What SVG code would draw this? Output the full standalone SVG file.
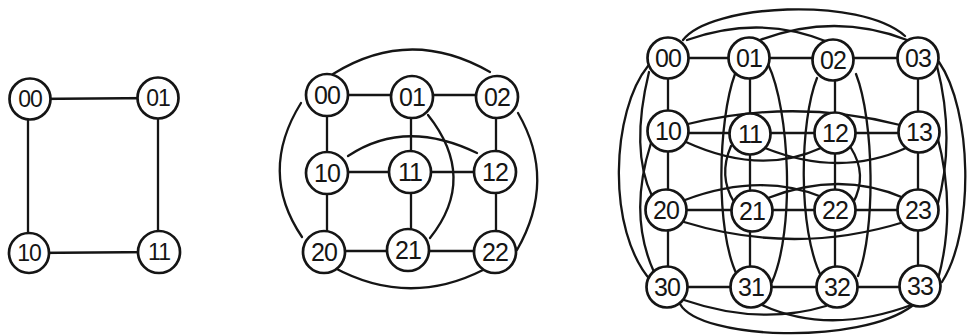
<svg xmlns="http://www.w3.org/2000/svg" width="970" height="336" viewBox="0 0 970 336">
  <style>
    .edge { fill: none; stroke: #151515; stroke-width: 2.3; stroke-linecap: round; }
    .node circle { fill: #fff; stroke: #151515; stroke-width: 2.7; }
    .node text { font-family: "Liberation Sans", "DejaVu Sans", sans-serif; font-size: 25px; fill: #151515; text-anchor: middle; letter-spacing: -1px; }
    .small text { font-size: 23px; }
  </style>
  <rect width="970" height="336" fill="#fff"/>

  <!-- connectors -->
  <g id="edges">
    <!-- 2x2 square -->
    <path class="edge" d="M28,99 L158,98 M28,99 L28,253 M158,98 L158,252 M28,253 L158,252"/>

    <!-- 3x3 rook graph: grid lines -->
    <path class="edge" d="M327,95 L496,95 M327,172 L496,172 M327,251 L496,251 M327,95 L327,251 M411,95 L411,251 M496,95 L496,251"/>
    <!-- 3x3 rook graph: long connections -->
    <path class="edge" d="M333,74 Q410,26 490,72"/>
    <path class="edge" d="M301,103 Q258,172 302,237"/>
    <path class="edge" d="M518,113 Q557,180 517,250"/>
    <path class="edge" d="M333,267 Q408,308 483,270"/>
    <path class="edge" d="M348,156 Q405,118 477,153"/>
    <path class="edge" d="M428,115 Q478,178 430,238"/>

    <!-- 4x4 rook graph: grid lines -->
    <path class="edge" d="M668,58 L918,58 M668,133 L918,133 M668,210 L918,210 M668,287 L918,287 M668,58 L668,287 M750,58 L750,287 M835,58 L835,287 M918,58 L918,287"/>
    <!-- top row -->
    <path class="edge" d="M683,40 C710,4 860,-4 905,36"/>
    <path class="edge" d="M687,40 Q760,14 828,42"/>
    <path class="edge" d="M760,40 Q835,12 907,40"/>
    <!-- left column -->
    <path class="edge" d="M648,66 C612,110 605,230 652,282"/>
    <path class="edge" d="M649,72 Q630,150 652,196"/>
    <path class="edge" d="M651,143 Q628,215 654,272"/>
    <!-- right column -->
    <path class="edge" d="M939,62 C972,110 975,230 942,282"/>
    <path class="edge" d="M937,66 Q956,140 937,207"/>
    <path class="edge" d="M937,135 Q957,210 938,279"/>
    <!-- bottom row -->
    <path class="edge" d="M680,304 C700,340 860,345 912,306"/>
    <path class="edge" d="M684,300 Q760,326 826,306"/>
    <path class="edge" d="M762,305 Q830,336 914,304"/>
    <!-- second row -->
    <path class="edge" d="M688,124 Q795,98 900,125"/>
    <path class="edge" d="M686,142 Q760,176 821,148"/>
    <path class="edge" d="M765,148 Q840,178 906,148"/>
    <!-- third row -->
    <path class="edge" d="M685,200 Q760,172 822,197"/>
    <path class="edge" d="M768,198 Q840,170 904,198"/>
    <path class="edge" d="M684,222 Q795,256 904,222"/>
    <!-- second column -->
    <path class="edge" d="M735,74 C718,120 715,230 737,275"/>
    <path class="edge" d="M768,64 C790,110 795,230 772,282"/>
    <path class="edge" d="M731,146 Q718,176 734,202"/>
    <!-- third column -->
    <path class="edge" d="M817,78 C800,120 797,230 822,278"/>
    <path class="edge" d="M856,74 C874,120 876,230 858,276"/>
    <path class="edge" d="M851,148 Q868,175 853,203"/>
  </g>

  <!-- 2x2 square nodes -->
  <g id="a00" class="node small"><circle cx="30" cy="99" r="20.5"/><text x="30" y="107">00</text></g>
  <g id="a01" class="node small"><circle cx="158" cy="98" r="20.5"/><text x="158" y="106">01</text></g>
  <g id="a10" class="node small"><circle cx="29" cy="253" r="20"/><text x="29" y="261">10</text></g>
  <g id="a11" class="node small"><circle cx="159" cy="252" r="21"/><text x="159" y="260">11</text></g>

  <!-- 3x3 nodes -->
  <g id="b00" class="node"><circle cx="327" cy="95" r="21"/><text x="327" y="104">00</text></g>
  <g id="b01" class="node"><circle cx="412" cy="97" r="21"/><text x="412" y="106">01</text></g>
  <g id="b02" class="node"><circle cx="497" cy="97" r="21"/><text x="497" y="106">02</text></g>
  <g id="b10" class="node"><circle cx="327" cy="173" r="21"/><text x="327" y="182">10</text></g>
  <g id="b11" class="node"><circle cx="410" cy="172" r="21"/><text x="410" y="181">11</text></g>
  <g id="b12" class="node"><circle cx="495" cy="172" r="21"/><text x="495" y="181">12</text></g>
  <g id="b20" class="node"><circle cx="324" cy="252" r="21"/><text x="324" y="261">20</text></g>
  <g id="b21" class="node"><circle cx="408" cy="250" r="21"/><text x="408" y="259">21</text></g>
  <g id="b22" class="node"><circle cx="495" cy="252" r="21"/><text x="495" y="261">22</text></g>

  <!-- 4x4 nodes -->
  <g id="c00" class="node"><circle cx="668" cy="58" r="20.5"/><text x="668" y="67">00</text></g>
  <g id="c01" class="node"><circle cx="749" cy="58" r="20.5"/><text x="749" y="67">01</text></g>
  <g id="c02" class="node"><circle cx="833" cy="60" r="20.5"/><text x="833" y="69">02</text></g>
  <g id="c03" class="node"><circle cx="918" cy="58" r="20.5"/><text x="918" y="67">03</text></g>
  <g id="c10" class="node"><circle cx="668" cy="131" r="20.5"/><text x="668" y="140">10</text></g>
  <g id="c11" class="node"><circle cx="750" cy="134" r="20.5"/><text x="750" y="143">11</text></g>
  <g id="c12" class="node"><circle cx="835" cy="133" r="20.5"/><text x="835" y="142">12</text></g>
  <g id="c13" class="node"><circle cx="919" cy="132" r="20.5"/><text x="919" y="141">13</text></g>
  <g id="c20" class="node"><circle cx="666" cy="210" r="20.5"/><text x="666" y="219">20</text></g>
  <g id="c21" class="node"><circle cx="752" cy="211" r="20.5"/><text x="752" y="220">21</text></g>
  <g id="c22" class="node"><circle cx="835" cy="210" r="20.5"/><text x="835" y="219">22</text></g>
  <g id="c23" class="node"><circle cx="918" cy="210" r="20.5"/><text x="918" y="219">23</text></g>
  <g id="c30" class="node"><circle cx="667" cy="287" r="20.5"/><text x="667" y="296">30</text></g>
  <g id="c31" class="node"><circle cx="751" cy="287" r="20.5"/><text x="751" y="296">31</text></g>
  <g id="c32" class="node"><circle cx="837" cy="287" r="20.5"/><text x="837" y="296">32</text></g>
  <g id="c33" class="node"><circle cx="920" cy="286" r="20.5"/><text x="920" y="295">33</text></g>
</svg>
